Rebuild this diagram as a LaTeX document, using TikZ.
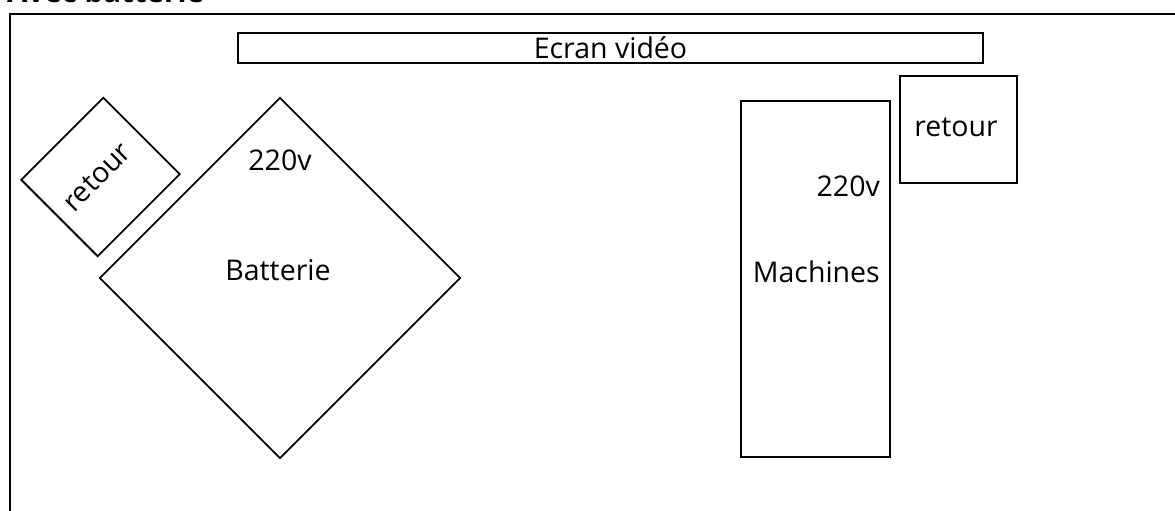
\documentclass[tikz,border=0pt]{standalone}
\usepackage{fontspec}
\setmainfont{Open Sans}
\usetikzlibrary{positioning}
\tikzset{
  zone/.style={draw,line width=1.8pt,rectangle,inner sep=0pt},
  lbl/.style={inner sep=0pt,font=\fontsize{28.5}{34}\selectfont},
}
\begin{document}
\begin{tikzpicture}[x=1pt,y=1pt]
  \path[use as bounding box] (0,0) rectangle (1175,511);
  \clip (0,0) rectangle (1175,511);
  % titre, coupe en haut
  \node[anchor=base west,inner sep=0pt,font=\bfseries\fontsize{29.5}{35}\selectfont] (titre) at (7,508) {Avec batterie};
  \draw[line width=2.2pt] (10,-20) -- (10,497) -- (1200,497);

  \node[zone,minimum width=745pt,minimum height=30pt] (ecran) at (610.5,463) {};
  \node[lbl] (ecranTxt) at (ecran) {Ecran vidéo};

  \node[zone,rotate=45,minimum width=116pt,minimum height=108pt] (retourG) at (100.5,334) {};
  \node[lbl,rotate=45] (retourGTxt) at (97,334) {retour};

  \node[zone,rotate=45,minimum size=254.6pt] (batterie) at (280,233) {};
  \node[lbl] (batterieTxt) at (278,241) {Batterie};
  \node[lbl] (batterieV) at (280,351) {220v};

  \node[zone,minimum width=149pt,minimum height=356pt] (machines) at (815.5,232) {};
  \node[lbl,anchor=east] (machinesTxt) at (880,239) {Machines};
  \node[lbl,anchor=east] (machinesV) at (880,325) {220v};

  \node[zone,minimum width=117pt,minimum height=107pt] (retourD) at (958.5,381.5) {};
  \node[lbl] (retourDTxt) at (956,384) {retour};
\end{tikzpicture}
\end{document}
